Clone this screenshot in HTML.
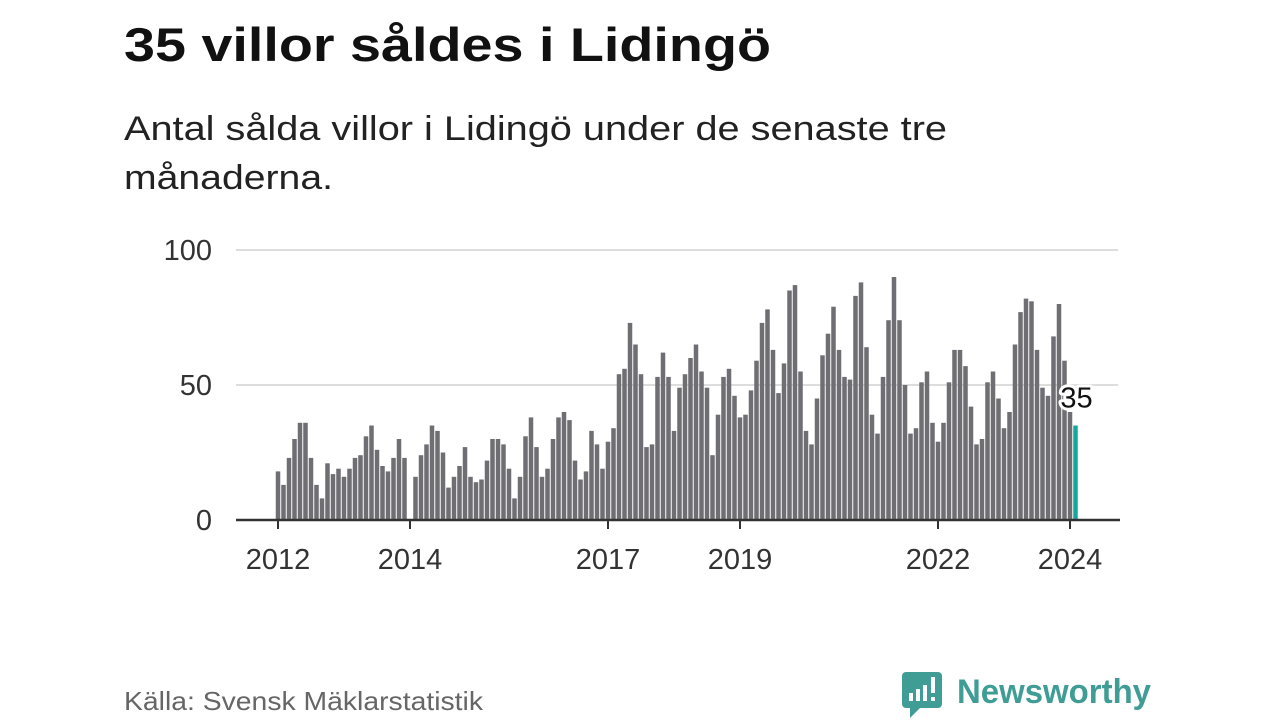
<!DOCTYPE html>
<html><head><meta charset="utf-8"><style>
html,body{margin:0;padding:0;background:#fff;}
svg{display:block;font-family:"Liberation Sans",sans-serif;}
</style></head><body>
<svg id="chart" width="1280" height="720" viewBox="0 0 1280 720">
<text x="124" y="61" font-size="47" font-weight="bold" fill="#111" textLength="647" lengthAdjust="spacingAndGlyphs">35 villor såldes i Lidingö</text>
<text x="124" y="140" font-size="34" fill="#222" textLength="823" lengthAdjust="spacingAndGlyphs">Antal sålda villor i Lidingö under de senaste tre</text>
<text x="124" y="189" font-size="34" fill="#222" textLength="209" lengthAdjust="spacingAndGlyphs">månaderna.</text>
<g id="grid"></g>
<g id="bars"></g>
<g id="axis"></g>
<g id="ylab"></g>
<g id="ann"></g>
<text x="124" y="710" font-size="26" fill="#666" textLength="359" lengthAdjust="spacingAndGlyphs">Källa: Svensk Mäklarstatistik</text>
<g>
<path d="M906 672 h32 a4 4 0 0 1 4 4 v28 a4 4 0 0 1 -4 4 h-18 l-10 10 v-10 h-4 a4 4 0 0 1 -4 -4 v-28 a4 4 0 0 1 4 -4z" fill="#3f9d95"/>
<rect x="909" y="693" width="4" height="8" fill="#fff"/>
<rect x="916" y="689" width="4" height="12" fill="#fff"/>
<rect x="923" y="685" width="4" height="16" fill="#fff"/>
<rect x="931" y="677" width="4" height="16" fill="#fff"/>
<rect x="931" y="697" width="4" height="4" fill="#fff"/>
<text x="957" y="703" font-size="34" font-weight="bold" fill="#3f9d95" textLength="194" lengthAdjust="spacingAndGlyphs">Newsworthy</text>
</g>
</svg>
<script>
const values = [18,13,23,30,36,36,23,13,8,21,17,19,16,19,23,24,31,35,26,20,18,23,30,23,
0,16,24,28,35,33,25,12,16,20,27,16,14,15,22,30,30,28,19,8,16,31,
38,27,16,19,30,38,40,37,22,15,18,33,28,19,
29,34,54,56,73,65,54,27,28,53,62,53,33,49,54,60,65,55,49,24,39,53,56,46,38,
39,48,59,73,78,63,47,58,85,87,55,33,28,45,
61,69,79,63,53,52,83,88,64,39,32,53,74,90,74,50,32,34,51,55,36,29,36,51,63,63,57,42,28,30,51,55,45,34,40,65,77,82,81,63,49,46,68,80,59,40,35];
const yTicks = [0,50,100];
const xTickYears = [2012,2014,2017,2019,2022,2024];
const startYear = 2012;
const NS='http://www.w3.org/2000/svg';
const x0=278, step=5.5, y0=520, yTop=250;
const xs = i => x0 + i*step;
const ys = v => y0 - (v/100)*(y0-yTop);
function mk(tag, attrs, parent){const e=document.createElementNS(NS,tag);for(const k in attrs)e.setAttribute(k,attrs[k]);parent.appendChild(e);return e;}
const grid=document.getElementById('grid'), bars=document.getElementById('bars'), axis=document.getElementById('axis'), ylab=document.getElementById('ylab'), ann=document.getElementById('ann');
yTicks.forEach(t=>{
  if(t>0){const l=mk('line',{x1:236,x2:1118,y1:ys(t),y2:ys(t),stroke:'#ddd','stroke-width':2},grid);
  
  }
  const tx=mk('text',{x:212,y:ys(t)+10,'font-size':29,fill:'#333','text-anchor':'end'},ylab);
  tx.textContent=t;
  
  
});
values.forEach((v,i)=>{
  if(v<=0) return;
  const last=i===values.length-1;
  const r=mk('rect',{x:xs(i)-2.25,y:ys(v),width:4.5,height:y0-ys(v),fill:last?'#13a89e':'#6f6e73'},bars);
  
  
});
const al=mk('line',{x1:236,x2:1120,y1:y0,y2:y0,stroke:'#333','stroke-width':2.5},axis);


xTickYears.forEach(y=>{
  const xi=xs((y-startYear)*12);
  const tk=mk('line',{x1:xi,x2:xi,y1:y0,y2:y0+9,stroke:'#333','stroke-width':2},axis);
  
  
  const tx=mk('text',{x:xi,y:569,'font-size':29,fill:'#333','text-anchor':'middle'},axis);
  tx.textContent=y;
  
  
});
const li=values.length-1;
const lab=mk('text',{x:xs(li)+1,y:ys(values[li])-18,'font-size':29,fill:'#111','text-anchor':'middle',stroke:'#fff','stroke-width':6,'paint-order':'stroke','stroke-linejoin':'round'},ann);
lab.textContent=values[li];


</script>
</body></html>
